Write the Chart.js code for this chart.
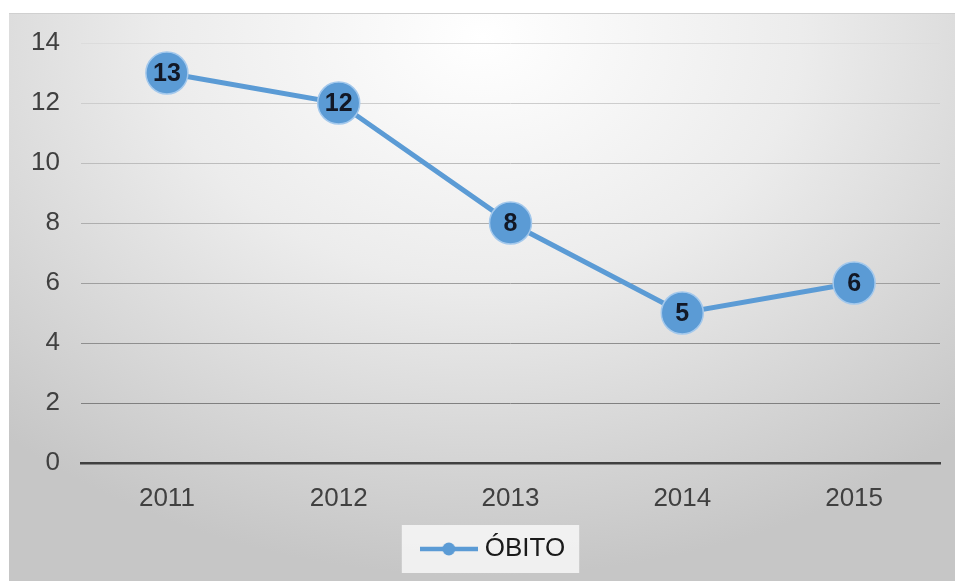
<!DOCTYPE html>
<html>
<head>
<meta charset="utf-8">
<script src="https://cdn.jsdelivr.net/npm/chart.js@4.4.1/dist/chart.umd.min.js"></script>
<style>
  html, body { margin: 0; padding: 0; background: #fff; }
  #wrap {
    position: absolute; left: 9px; top: 13px; width: 946px; height: 568px;
    background: radial-gradient(ellipse 75% 95% at 50% 4%, #ffffff 0%, #ececec 45%, #c6c6c6 100%);
    border-top: 1px solid #d0d0d0;
  }
</style>
</head>
<body>
<div id="wrap"><canvas id="obitoChart"></canvas></div>
<script>
// dados
const anos = ['2011', '2012', '2013', '2014', '2015'];
const obitos = [13, 12, 8, 5, 6];
const serieNome = 'ÓBITO';

const azul = '#5b9bd5';
const fonte = '"Liberation Sans", Arial, sans-serif';

// ícone da legenda: linha com bolinha
function iconeLegenda() {
    const c = document.createElement('canvas');
    c.width = 58; c.height = 16;
    const g = c.getContext('2d');
    g.strokeStyle = azul;
    g.lineWidth = 4.5;
    g.beginPath(); g.moveTo(0, 8); g.lineTo(58, 8); g.stroke();
    g.fillStyle = azul;
    g.beginPath(); g.arc(29, 8, 6.5, 0, Math.PI * 2); g.fill();
    return c;
}
const icone = iconeLegenda();

// legenda um pouco à direita + fundo claro atrás dela
const fundoLegenda = {
    id: 'fundoLegenda',
    afterLayout(chart) {
        const lg = chart.legend;
        if (!lg) return;
        const dx = 21;
        lg.left += dx;
        lg.right += dx;
        lg.legendHitBoxes.forEach(b => { b.left += dx; });
    },
    beforeDraw(chart) {
        const lg = chart.legend;
        if (!lg || !lg.legendHitBoxes.length) return;
        const b = lg.legendHitBoxes[0];
        const ctx = chart.ctx;
        ctx.save();
        ctx.fillStyle = 'rgba(250,250,250,0.8)';
        ctx.fillRect(b.left - 24, b.top - 11, b.width + 38, b.height + 22);
        ctx.restore();
    }
};

// valores dentro dos pontos
const rotulos = {
    id: 'rotulos',
    afterDatasetsDraw(chart) {
        const ctx = chart.ctx;
        const meta = chart.getDatasetMeta(0);
        ctx.save();
        ctx.font = 'bold 25px ' + fonte;
        ctx.fillStyle = '#121826';
        ctx.textAlign = 'center';
        ctx.textBaseline = 'middle';
        meta.data.forEach((pt, i) => {
            ctx.fillText(chart.data.datasets[0].data[i], pt.x, pt.y + 1);
        });
        ctx.restore();
    }
};

// cor da grade: mais clara em cima, mais escura embaixo
function corGrade(ctx) {
    const v = ctx.tick ? ctx.tick.value : 0;
    const n = Math.round(0xdc - (14 - v) / 12 * (0xdc - 0x80));
    return `rgb(${n},${n},${n})`;
}

const ctx = document.getElementById('obitoChart').getContext('2d');
new Chart(ctx, {
    type: 'line',
    data: {
        labels: anos,
        datasets: [{
            label: serieNome,
            data: obitos,
            borderColor: azul,
            borderWidth: 5,
            pointRadius: 21,
            pointHoverRadius: 21,
            pointBackgroundColor: azul,
            pointBorderColor: '#a3c8ec',
            pointBorderWidth: 1.5,
            tension: 0,
            fill: false
        }]
    },
    options: {
        responsive: true,
        maintainAspectRatio: false,
        animation: false,
        layout: { autoPadding: false, padding: { left: 0, right: 15, top: 29, bottom: 10 } },
        plugins: {
            tooltip: { enabled: false },
            legend: {
                position: 'bottom',
                labels: {
                    usePointStyle: true,
                    pointStyleWidth: 46,
                    color: '#1a1a1a',
                    font: { size: 26, family: fonte },
                    padding: 11,
                    generateLabels(chart) {
                        const items = Chart.defaults.plugins.legend.labels.generateLabels(chart);
                        items.forEach(it => { it.pointStyle = icone; });
                        return items;
                    }
                }
            }
        },
        scales: {
            x: {
                offset: true,
                grid: { display: false, drawTicks: false },
                border: { display: true, color: '#404040', width: 2.5 },
                ticks: {
                    color: '#404040',
                    padding: 20,
                    font: { size: 26, family: fonte }
                },
                afterFit(s) { s.height = 62; s.paddingLeft = 0; s.paddingRight = 0; }
            },
            y: {
                min: 0,
                max: 14,
                ticks: {
                    stepSize: 2,
                    color: '#404040',
                    padding: 21,
                    font: { size: 26, family: fonte }
                },
                grid: { color: corGrade, lineWidth: 1, drawTicks: false },
                border: { display: false },
                afterFit(s) { s.width = 72; s.paddingTop = 0; s.paddingBottom = 0; }
            }
        }
    },
    plugins: [fundoLegenda, rotulos]
});
</script>
</body>
</html>
